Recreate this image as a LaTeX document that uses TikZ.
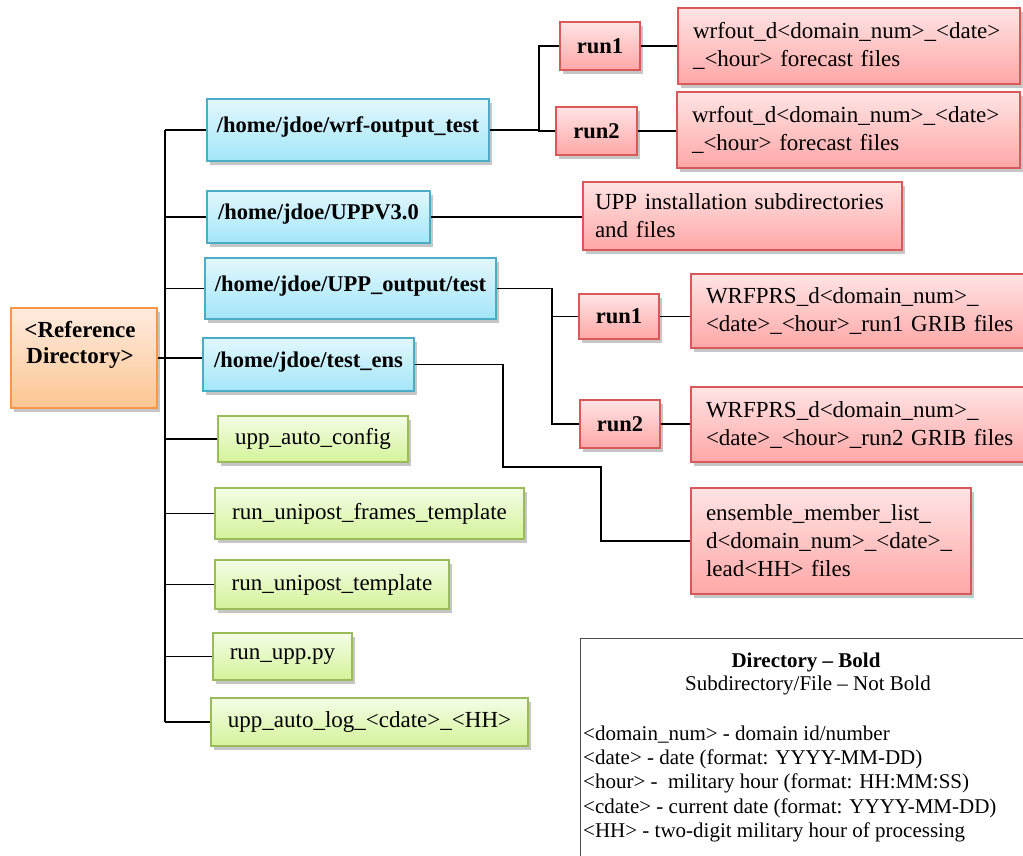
\documentclass[tikz,border=0pt]{standalone}
\usepackage{fontspec}
\setmainfont{Liberation Serif}
\usetikzlibrary{shadows}
\hyphenpenalty=10000

\definecolor{dirline}{HTML}{4BACC6}
\definecolor{dirtop}{HTML}{E2F7FD}
\definecolor{dirbot}{HTML}{A3E6F9}
\definecolor{fileline}{HTML}{9BBB59}
\definecolor{filetop}{HTML}{F4FDE6}
\definecolor{filebot}{HTML}{D4F39A}
\definecolor{runline}{HTML}{D9585A}
\definecolor{runtop}{HTML}{FFE4E4}
\definecolor{runbot}{HTML}{FFA7A7}
\definecolor{rootline}{HTML}{F79646}
\definecolor{roottop}{HTML}{FEEBDF}
\definecolor{rootbot}{HTML}{FCC692}

\tikzset{
  boxbase/.style={line width=1.5pt, inner sep=0pt,
    drop shadow={shadow xshift=3pt, shadow yshift=-4pt, opacity=0.45}},
  rootbox/.style={boxbase, draw=rootline, top color=roottop, bottom color=rootbot},
  dirbox/.style={boxbase, draw=dirline, top color=dirtop, bottom color=dirbot,
    font=\fontsize{22.5}{27}\selectfont\bfseries, text depth=10pt},
  filebox/.style={boxbase, draw=fileline, top color=filetop, bottom color=filebot,
    font=\fontsize{23}{28}\selectfont},
  runbox/.style={boxbase, draw=runline, top color=runtop, bottom color=runbot,
    font=\fontsize{22.5}{27}\selectfont\bfseries},
  notebox/.style={boxbase, draw=runline, top color=runtop, bottom color=runbot,
    font=\fontsize{23}{28}\selectfont, align=left},
  conn/.style={line width=1.2pt, black},
  legtext/.style={font=\fontsize{21}{24}\selectfont, inner sep=0pt}
}

\begin{document}
\begin{tikzpicture}[x=1pt, y=-1pt]
\path[use as bounding box, clip] (0,0) rectangle (1023,855);

% root directory
\node[rootbox, minimum width=146, minimum height=100] (ref) at (84,358) {};
\node[font=\fontsize{23}{26}\selectfont\bfseries, align=center, inner sep=0pt] (reflabel) at (80,345) {<Reference\\Directory>};

% directories (blue)
\node[dirbox, minimum width=282, minimum height=62] (wrf) at (348,130) {/home/jdoe/wrf-output\_test};
\node[dirbox, minimum width=223, minimum height=52] (uppv) at (318.5,217) {/home/jdoe/UPPV3.0};
\node[dirbox, minimum width=291, minimum height=61] (uppout) at (350.5,288.5) {/home/jdoe/UPP\_output/test};
\node[dirbox, minimum width=211, minimum height=53] (ens) at (308.5,364.5) {/home/jdoe/test\_ens};

% files (green)
\node[filebox, minimum width=190, minimum height=46] (cfg) at (313,439) {upp\_auto\_config};
\node[filebox, minimum width=309, minimum height=51] (frames) at (369.5,513.5) {run\_unipost\_frames\_template};
\node[filebox, minimum width=234, minimum height=49] (tmpl) at (332,584.5) {run\_unipost\_template};
\node[filebox, minimum width=139, minimum height=47] (runpy) at (282.5,656.5) {run\_upp.py};
\node[filebox, minimum width=317, minimum height=48] (log) at (369.5,722) {upp\_auto\_log\_<cdate>\_<HH>};

% run subdirectories (red)
\node[runbox, minimum width=80, minimum height=48] (runA1) at (600,46) {run1};
\node[runbox, minimum width=81, minimum height=48] (runA2) at (596.5,131) {run2};
\node[runbox, minimum width=80, minimum height=45] (runB1) at (619,316.5) {run1};
\node[runbox, minimum width=80, minimum height=48] (runB2) at (620,424) {run2};

% contents (red)
\node[notebox, minimum width=342, minimum height=76, text width=312] (wrfoutA) at (849,46) {wrfout\_d<domain\_num>\_<date>\\\_<hour> forecast files};
\node[notebox, minimum width=343, minimum height=76, text width=313] (wrfoutB) at (848.5,130) {wrfout\_d<domain\_num>\_<date>\\\_<hour> forecast files};
\node[notebox, minimum width=319, minimum height=68, text width=295] (uppinst) at (742.5,216) {UPP installation subdirectories\\and files};
\node[notebox, minimum width=349, minimum height=74, text width=319] (prsA) at (865.5,311) {WRFPRS\_d<domain\_num>\_\\<date>\_<hour>\_run1 GRIB files};
\node[notebox, minimum width=349, minimum height=75, text width=319] (prsB) at (865.5,424.5) {WRFPRS\_d<domain\_num>\_\\<date>\_<hour>\_run2 GRIB files};
\node[notebox, minimum width=280, minimum height=106, text width=250] (enslist) at (831,541) {ensemble\_member\_list\_\\d<domain\_num>\_<date>\_\\lead<HH> files};

% joints of the connectors
\coordinate (trunk) at (165,0);
\coordinate (wrfjoin) at (539,0);
\coordinate (prsjoin) at (552,0);
\coordinate (ensjoinA) at (503,0);
\coordinate (ensjoinB) at (601,467);

% tree on the left
\draw[conn] (trunk |- wrf.west) -- (trunk |- log.west); % trunk
\draw[conn] (trunk |- wrf.west) -- (wrf.west);
\draw[conn] (trunk |- uppv.west) -- (uppv.west);
\draw[conn] (trunk |- uppout.west) -- (uppout.west);
\draw[conn] (ref.east) -- (ref.east -| ens.west); % root to test_ens
\draw[conn] (trunk |- cfg.west) -- (cfg.west);
\draw[conn] (trunk |- frames.west) -- (frames.west);
\draw[conn] (trunk |- tmpl.west) -- (tmpl.west);
\draw[conn] (trunk |- runpy.west) -- (runpy.west);
\draw[conn] (trunk |- log.west) -- (log.west);

% wrf-output_test
\draw[conn] (wrf.east) -- (wrfjoin |- wrf.east);
\draw[conn] (runA1.west) -- (wrfjoin |- runA1.west) -- (wrfjoin |- runA2.west) -- (runA2.west);
\draw[conn] (runA1.east) -- (runA1.east -| wrfoutA.west);
\draw[conn] (runA2.east) -- (runA2.east -| wrfoutB.west);

% UPPV3.0
\draw[conn] (uppv.east) -- (uppv.east -| uppinst.west);

% UPP_output/test
\draw[conn] (uppout.east) -- (prsjoin |- uppout.east) -- (prsjoin |- runB2.west) -- (runB2.west);
\draw[conn] (prsjoin |- runB1.west) -- (runB1.west);
\draw[conn] (runB1.east) -- (runB1.east -| prsA.west);
\draw[conn] (runB2.east) -- (runB2.east -| prsB.west);

% test_ens
\draw[conn] (ens.east) -- (ensjoinA |- ens.east) -- (ensjoinA |- ensjoinB) -- (ensjoinB) -- (ensjoinB |- enslist.west) -- (enslist.west);

% legend
\node[draw, line width=1pt, gray!60!black, minimum width=460, minimum height=240, anchor=north west, inner sep=0pt] (legend) at (580,638) {};
\node[legtext, font=\fontsize{21}{24}\selectfont\bfseries] (legtitle) at (806,662) {Directory – Bold};
\node[legtext] (legsub) at (808,685) {Subdirectory/File – Not Bold};
\node[legtext, anchor=base west] (leg1) at (583,740) {<domain\_num> - domain id/number};
\node[legtext, anchor=base west] (leg2) at (583,764) {<date> - date (format: YYYY-MM-DD)};
\node[legtext, anchor=base west] (leg3) at (583,788) {<hour> -~ military hour (format: HH:MM:SS)};
\node[legtext, anchor=base west] (leg4) at (583,813) {<cdate> - current date (format: YYYY-MM-DD)};
\node[legtext, anchor=base west] (leg5) at (583,837) {<HH> - two-digit military hour of processing};

\end{tikzpicture}
\end{document}
